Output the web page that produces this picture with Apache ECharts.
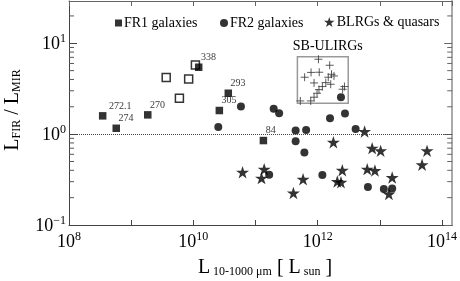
<!DOCTYPE html>
<html><head><meta charset="utf-8">
<script src="https://cdn.jsdelivr.net/npm/echarts@6/dist/echarts.min.js"></script>
<style>html,body{margin:0;padding:0;background:#fff}#c{width:460px;height:281px}</style>
</head><body><div id="c"></div>
<script>
// ---- data ----
const fr1X = [3.48e8, 5.75e8, 1.85e9, 1.22e10, 3.65e10, 2.62e10, 1.34e11];
const fr1Y = [1.59, 1.16, 1.63, 5.45, 2.82, 1.82, 0.85];
const fr1Labels = ['272.1', '274', '270', '338', '293', '305', '84'];
const fr1OpenX = [1.08e10, 3.66e9, 8.41e9, 5.97e9];
const fr1OpenY = [5.78, 4.19, 4.05, 2.49];
const fr2X = [5.83e10, 1.96e11, 2.40e11, 2.52e10, 2.37e12, 1.58e12, 2.75e12, 4.42e11, 6.52e11,
              4.42e11, 6.11e11, 1.66e11, 1.19e12, 4.08e12, 6.43e12, 1.16e13, 1.58e13];
const fr2Y = [2.01, 1.90, 1.70, 1.20, 2.55, 1.50, 1.69, 1.10, 1.11,
              0.833, 0.628, 0.357, 0.354, 1.14, 0.262, 0.249, 0.252];
const blrgX = [6.19e10, 1.38e11, 1.25e11, 5.83e11, 4.07e11, 1.79e12, 5.69e12, 7.53e12, 1.03e13,
               5.75e13, 4.78e13, 2.49e12, 6.27e12, 8.34e12, 2.07e12, 2.37e12, 1.58e13, 1.40e13];
const blrgY = [0.380, 0.410, 0.328, 0.319, 0.225, 0.813, 1.07, 0.702, 0.655,
               0.655, 0.460, 0.400, 0.412, 0.398, 0.301, 0.295, 0.333, 0.219];
const sbX = [1.03e12, 1.56e12, 6.17e11, 7.83e11, 1.06e12, 1.67e12, 1.48e12, 1.83e12, 8.75e11, 1.35e12,
             1.62e12, 1.19e12, 1.05e12, 9.77e11, 2.70e12, 2.52e12, 5.26e11, 7.74e11, 8.75e11];
const sbY = [6.67, 5.73, 4.23, 4.78, 4.80, 4.56, 4.23, 4.37, 3.66, 3.69,
             3.54, 3.34, 3.09, 2.82, 3.34, 3.12, 2.32, 2.32, 2.55];
const sbBoxX = [4.72e11, 3.1e12];
const sbBoxY = [2.19, 7.13];
const refLineY = 1;
const xLabelExp = [8, 10, 12, 14];
const yLabelExp = [-1, 0, 1];
const yMinorTicks = [0.2, 0.3, 0.4, 0.5, 0.6, 0.7, 0.8, 0.9, 2, 3, 4, 5, 6, 7, 8, 9, 20];
const xRange = [1e8, 1.46e14];
const yRange = [0.1, 29.2];

// ---- chart ----
const FONT = 'Liberation Serif';
const STAR = 'path://M0,-10L2.245,-3.09L9.511,-3.09L3.633,1.18L5.878,8.09L0,3.82L-5.878,8.09L-3.633,1.18L-9.511,-3.09L-2.245,-3.09Z';
const CROSS = 'path://M0,5L10,5M5,0L5,10';
const zip = (a, b) => a.map((v, i) => [v, b[i]]);

function expLabel(v, list) {
  const l = Math.log10(v);
  const e = Math.round(l);
  if (Math.abs(l - e) > 1e-6 || list.indexOf(e) < 0) return '';
  return '{b|10}{s|' + String(e).replace('-', '\u2212') + '}';
}
const supRich = {
  b: { fontFamily: FONT, fontSize: 18, color: '#000', verticalAlign: 'bottom', lineHeight: 20 },
  s: { fontFamily: FONT, fontSize: 12, color: '#000', verticalAlign: 'top', lineHeight: 12 }
};

const chart = echarts.init(document.getElementById('c'), null, { renderer: 'canvas' });
chart.setOption({
  animation: false,
  backgroundColor: '#fff',
  grid: { left: 69, right: 6, top: 1, bottom: 56, show: false },
  legend: [
    { left: 115, top: 16, padding: 0, itemWidth: 7, itemHeight: 7, data: [{ name: 'FR1 galaxies', icon: 'rect' }],
      textStyle: { fontFamily: FONT, fontSize: 14, color: '#000', padding: [0, 0, 0, -3] } },
    { left: 220, top: 16, padding: 0, itemWidth: 8, itemHeight: 8, data: [{ name: 'FR2 galaxies', icon: 'circle' }],
      textStyle: { fontFamily: FONT, fontSize: 14, color: '#000', padding: [0, 0, 0, -3] } },
    { left: 324, top: 15, padding: 0, itemWidth: 11, itemHeight: 10, data: [{ name: 'BLRGs & quasars', icon: STAR }],
      textStyle: { fontFamily: FONT, fontSize: 14, color: '#000', padding: [0, 0, 0, -3] } }
  ],
  xAxis: [
    { type: 'log', min: xRange[0], max: xRange[1], interval: 1, position: 'bottom',
      axisLine: { lineStyle: { color: '#444', width: 1 } },
      axisTick: { inside: true, length: 5, lineStyle: { color: '#444' } },
      splitLine: { show: false },
      axisLabel: { margin: 6, formatter: v => expLabel(v, xLabelExp), rich: supRich, showMaxLabel: false } },
    { type: 'log', min: xRange[0], max: xRange[1], interval: 1, position: 'top',
      axisLine: { lineStyle: { color: '#666', width: 1 } },
      axisTick: { inside: true, length: 5, lineStyle: { color: '#666' } },
      splitLine: { show: false }, axisLabel: { show: false } }
  ],
  yAxis: [
    { type: 'log', min: yRange[0], max: yRange[1], interval: 1, position: 'left',
      axisLine: { lineStyle: { color: '#444', width: 1 } },
      axisTick: { inside: true, length: 8, lineStyle: { color: '#444' } },
      splitLine: { show: false },
      axisLabel: { margin: 3, formatter: v => expLabel(v, yLabelExp), rich: supRich, showMaxLabel: false } },
    { type: 'log', min: yRange[0], max: yRange[1], interval: 1, position: 'right',
      axisLine: { lineStyle: { color: '#aaa', width: 2 } },
      axisTick: { inside: true, length: 8, lineStyle: { color: '#666' } },
      splitLine: { show: false }, axisLabel: { show: false } }
  ],
  graphic: [
    { type: 'text', x: 12, y: 110, rotation: Math.PI / 2,
      style: { text: '{L|L}{s|FIR}{L| / L}{s|MIR}', align: 'center', verticalAlign: 'middle',
        rich: { L: { fontFamily: FONT, fontSize: 20, fill: '#000', verticalAlign: 'bottom', lineHeight: 22 },
                s: { fontFamily: FONT, fontSize: 12, fill: '#000', verticalAlign: 'bottom', lineHeight: 16 } } } },
    { type: 'text', x: 265, y: 267,
      style: { text: '{L|L}{s| 10-1000 \u03bcm}{L| [ L}{s| sun}{L| ]}', align: 'center', verticalAlign: 'middle',
        rich: { L: { fontFamily: FONT, fontSize: 20, fill: '#000', verticalAlign: 'bottom', lineHeight: 22 },
                s: { fontFamily: FONT, fontSize: 12, fill: '#000', verticalAlign: 'bottom', lineHeight: 16 } } } }
  ],
  series: [
    { type: 'custom', silent: true, xAxisIndex: 0, yAxisIndex: 0, z: 1,
      data: yMinorTicks.map(v => [xRange[0], v]),
      renderItem: function (params, api) {
        const p = api.coord([api.value(0), api.value(1)]);
        const cs = params.coordSys;
        return { type: 'group', children: [
          { type: 'line', shape: { x1: cs.x, y1: p[1], x2: cs.x + 5, y2: p[1] }, style: { stroke: '#555', lineWidth: 1 } },
          { type: 'line', shape: { x1: cs.x + cs.width - 5, y1: p[1], x2: cs.x + cs.width, y2: p[1] }, style: { stroke: '#666', lineWidth: 1 } }
        ] };
      } },
    { name: 'SB-ULIRGs', type: 'scatter', data: zip(sbX, sbY), symbol: CROSS, symbolSize: 8, silent: true,
      itemStyle: { color: 'none', borderColor: '#333', borderWidth: 1 },
      markArea: { silent: true, itemStyle: { color: 'rgba(0,0,0,0)', borderColor: '#999', borderWidth: 1.5 },
        label: { show: true, position: 'top', distance: 3, offset: [5, 0], color: '#000', fontFamily: FONT, fontSize: 14 },
        data: [[{ name: 'SB-ULIRGs', coord: [sbBoxX[0], sbBoxY[1]] }, { coord: [sbBoxX[1], sbBoxY[0]] }]] } },
    { name: 'FR1 open', type: 'scatter', data: zip(fr1OpenX, fr1OpenY), symbol: 'rect', symbolSize: 8,
      itemStyle: { color: '#fff', borderColor: '#000', borderWidth: 1.5 } },
    { name: 'FR1 galaxies', type: 'scatter', symbol: 'rect', symbolSize: 7.5, itemStyle: { color: '#000' },
      data: fr1X.map((x, i) => ({ value: [x, fr1Y[i]], name: fr1Labels[i],
        label: i === 0 ? { position: [10, -11] } : undefined })),
      label: { show: true, position: [6, -11], align: 'left', verticalAlign: 'top', formatter: p => p.name,
        fontFamily: FONT, fontSize: 10, color: '#000' } },
    { name: 'FR2 galaxies', type: 'scatter', symbol: 'circle', symbolSize: 8, itemStyle: { color: '#000' },
      data: zip(fr2X, fr2Y),
      markLine: { silent: true, symbol: 'none', label: { show: false },
        lineStyle: { type: 'dotted', color: '#444', width: 1 }, data: [{ yAxis: refLineY }] } },
    { name: 'BLRGs & quasars', type: 'scatter', symbol: STAR, symbolSize: [13, 12.4], itemStyle: { color: '#000' },
      data: zip(blrgX, blrgY) }
  ]
});
</script></body></html>
